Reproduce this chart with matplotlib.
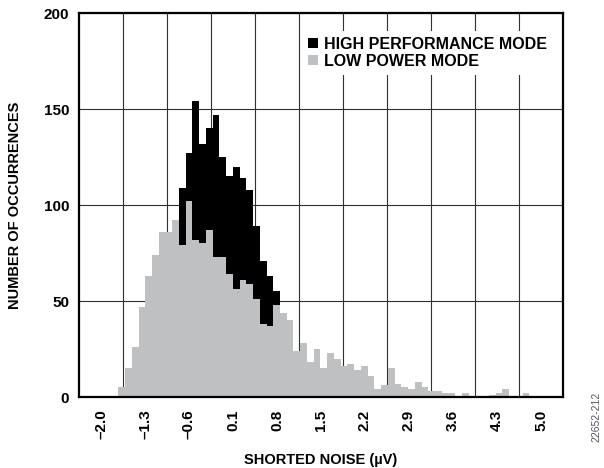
import numpy as np
from matplotlib import pyplot as plt
from matplotlib.patches import Patch

# histogram bins (uV)
bin_start = -1.725
bin_width = 0.1072

# counts per bin, low power mode (gray, drawn in front)
lowPower = [5, 15, 26, 47, 63, 74, 86, 86, 92, 79,
            102, 82, 80, 87, 73, 73, 64, 56, 61, 59,
            51, 38, 37, 48, 44, 40, 24, 28, 18, 25,
            15, 23, 20, 16, 17, 14, 16, 11, 4, 6,
            15, 7, 5, 4, 8, 5, 3, 3, 2, 2,
            0, 2, 0, 0, 0, 1, 2, 4, 0, 0,
            2]
# counts per bin, high performance mode (black, behind)
highPerf = [0, 0, 1, 2, 5, 12, 25, 45, 70, 109,
            127, 154, 132, 140, 147, 125, 115, 120, 114, 108,
            89, 71, 63, 55, 38, 28, 18, 10, 6, 3,
            2, 1, 0, 0, 0, 0, 0, 0, 0, 0,
            0, 0, 0, 0, 0, 0, 0, 0, 0, 0,
            0, 0, 0, 0, 0, 0, 0, 0, 0, 0,
            0]

tickVals = [-2.0, -1.3, -0.6, 0.1, 0.8, 1.5, 2.2, 2.9, 3.6, 4.3, 5.0]
tickLabels = ['\u20132.0', '\u20131.3', '\u20130.6', '0.1', '0.8', '1.5', '2.2', '2.9', '3.6', '4.3', '5.0']
yTicks = [0, 50, 100, 150, 200]

plt.rcParams['font.family'] = ['Liberation Sans', 'DejaVu Sans']
plt.rcParams['font.weight'] = 'bold'

gray = '#bfc0c2'
fig = plt.figure(figsize=(6.04, 4.68), dpi=100)
ax = fig.add_axes([0.1308, 0.1517, 0.8013, 0.8205])

left = bin_start + bin_width * np.arange(len(lowPower))
ax.bar(left, highPerf, width=bin_width, align='edge', color='black', linewidth=0, zorder=2)
ax.bar(left, lowPower, width=bin_width, align='edge', color=gray, linewidth=0, zorder=3)

ax.set_xlim(-2.35, 5.35)
ax.set_ylim(0, 200)
ax.set_xticks(tickVals)
ax.set_xticklabels(tickLabels, rotation=90, fontsize=11, fontweight='bold')
# grid lines sit between the labelled positions
ax.set_xticks([t + 0.35 for t in tickVals[:-1]], minor=True)
ax.set_yticks(yTicks)
ax.set_yticklabels([str(v) for v in yTicks], fontsize=11, fontweight='bold')
ax.tick_params(axis='both', which='both', length=0)
ax.tick_params(axis='x', pad=9)
ax.tick_params(axis='y', pad=7)
ax.grid(True, axis='x', which='minor', color='#303030', linewidth=0.8)
ax.grid(True, axis='y', which='major', color='#303030', linewidth=0.8)
ax.set_axisbelow(True)
for sp in ax.spines.values():
    sp.set_linewidth(1.6)
    sp.set_zorder(5)

ax.set_xlabel('SHORTED NOISE (\u00b5V)', fontsize=10.5, fontweight='bold', labelpad=10)
ax.set_ylabel('NUMBER OF OCCURRENCES', fontsize=10.5, fontweight='bold', labelpad=16)

handles = [Patch(facecolor='black', edgecolor='none', label='HIGH PERFORMANCE MODE'),
           Patch(facecolor=gray, edgecolor='none', label='LOW POWER MODE')]
leg = ax.legend(handles=handles, loc='upper right', bbox_to_anchor=(0.997, 0.975),
                frameon=True, fancybox=False, framealpha=1, edgecolor='none',
                handlelength=0.6, handleheight=0.6, handletextpad=0.4,
                labelspacing=0.1, borderpad=0.4, prop={'size': 11.5, 'weight': 'bold'})
leg.set_zorder(6)

fig.text(0.988, 0.11, '22652-212', rotation=90, fontsize=7.5, fontweight='normal',
         color='#555566', ha='center', va='center')

fig.savefig('out.png', dpi=100)
